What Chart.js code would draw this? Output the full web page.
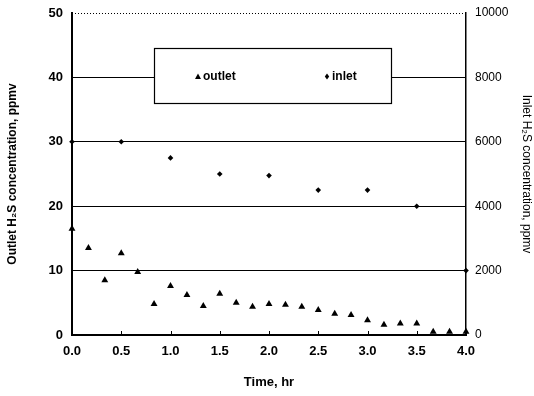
<!DOCTYPE html>
<html>
<head>
<meta charset="utf-8">
<script src="https://cdn.jsdelivr.net/npm/chart.js@4/dist/chart.umd.min.js"></script>
<style>
  html, body { margin: 0; padding: 0; background: #fff; }
  #wrap { width: 534px; height: 396px; }
</style>
</head>
<body>
<div id="wrap"><canvas id="h2sChart"></canvas></div>
<script>
// Data
const outletTime = [0, 0.167, 0.333, 0.5, 0.667, 0.833, 1.0, 1.167, 1.333, 1.5, 1.667, 1.833, 2.0,
                    2.167, 2.333, 2.5, 2.667, 2.833, 3.0, 3.167, 3.333, 3.5, 3.667, 3.833, 4.0];
const outletPpmv = [16.5, 13.5, 8.5, 12.7, 9.8, 4.8, 7.6, 6.2, 4.5, 6.4, 5.0, 4.4, 4.8,
                    4.7, 4.4, 3.9, 3.3, 3.1, 2.3, 1.6, 1.8, 1.8, 0.5, 0.5, 0.5];
const inletTime = [0, 0.5, 1.0, 1.5, 2.0, 2.5, 3.0, 3.5, 4.0];
const inletPpmv = [6000, 6000, 5500, 5000, 4950, 4500, 4500, 4000, 2000];

const seriesLabels = ['outlet', 'inlet'];
const xTicks = [0, 0.5, 1, 1.5, 2, 2.5, 3, 3.5, 4];

const FONT = "'Liberation Sans', Arial, sans-serif";

// Legend box, dotted top border and small inward x ticks
const framePlugin = {
    id: 'frame',
    afterDatasetsDraw(chart) {
        const { ctx, chartArea: a, scales } = chart;
        ctx.save();

        // dotted top edge
        ctx.strokeStyle = '#000';
        ctx.lineWidth = 1;
        ctx.setLineDash([1, 2]);
        ctx.beginPath();
        ctx.moveTo(a.left, a.top + 0.5);
        ctx.lineTo(a.right, a.top + 0.5);
        ctx.stroke();
        ctx.setLineDash([]);

        // inward tick marks on the time axis
        ctx.lineWidth = 1;
        xTicks.forEach(t => {
            const px = Math.round(scales.x.getPixelForValue(t)) + 0.5;
            ctx.beginPath();
            ctx.moveTo(px, a.bottom);
            ctx.lineTo(px, a.bottom - 4);
            ctx.stroke();
        });

        // legend box
        const bx = a.left + 82, by = a.top + 35, bw = 237, bh = 55;
        ctx.fillStyle = '#fff';
        ctx.fillRect(bx, by, bw, bh);
        ctx.lineWidth = 1.2;
        ctx.strokeRect(bx + 0.5, by + 0.5, bw, bh);

        const cy = by + bh / 2 + 1;
        ctx.fillStyle = '#000';
        ctx.font = 'bold 12px ' + FONT;
        ctx.textBaseline = 'middle';

        // triangle item
        let mx = bx + 44;
        ctx.beginPath();
        ctx.moveTo(mx, cy - 3);
        ctx.lineTo(mx + 3, cy + 2.5);
        ctx.lineTo(mx - 3, cy + 2.5);
        ctx.closePath();
        ctx.fill();
        ctx.fillText(seriesLabels[0], mx + 5, cy);

        // diamond item
        mx = bx + 173;
        ctx.beginPath();
        ctx.moveTo(mx, cy - 3);
        ctx.lineTo(mx + 2.2, cy);
        ctx.lineTo(mx, cy + 3);
        ctx.lineTo(mx - 2.2, cy);
        ctx.closePath();
        ctx.fill();
        ctx.fillText(seriesLabels[1], mx + 5, cy);

        ctx.restore();
    }
};

const bgPlugin = {
    id: 'bg',
    beforeDraw(chart) {
        const { ctx } = chart;
        ctx.save();
        ctx.fillStyle = '#fff';
        ctx.fillRect(0, 0, chart.width, chart.height);
        ctx.restore();
    }
};

const h2sChart = new Chart(
    document.getElementById('h2sChart'),
    {
        type: 'scatter',
        data: {
            datasets: [
                {
                    label: seriesLabels[0],
                    data: outletTime.map((t, i) => ({ x: t, y: outletPpmv[i] })),
                    yAxisID: 'y',
                    pointStyle: 'triangle',
                    pointRadius: 4,
                    backgroundColor: '#000',
                    borderColor: '#000',
                    borderWidth: 0,
                    clip: false
                },
                {
                    label: seriesLabels[1],
                    data: inletTime.map((t, i) => ({ x: t, y: inletPpmv[i] })),
                    yAxisID: 'y2',
                    pointStyle: 'rectRot',
                    pointRadius: 2.8,
                    backgroundColor: '#000',
                    borderColor: '#000',
                    borderWidth: 0,
                    clip: false
                }
            ]
        },
        options: {
            responsive: true,
            maintainAspectRatio: false,
            animation: false,
            layout: { padding: { top: 13, left: 0, right: 0, bottom: 0 } },
            plugins: {
                legend: { display: false },
                tooltip: { enabled: false }
            },
            scales: {
                x: {
                    type: 'linear',
                    min: 0,
                    max: 4,
                    afterFit: s => { s.height = 61; s.paddingLeft = 0; s.paddingRight = 0; },
                    afterBuildTicks: s => { s.ticks = xTicks.map(v => ({ value: v })); },
                    grid: { drawOnChartArea: false, drawTicks: false },
                    border: { color: '#000', width: 2 },
                    ticks: {
                        padding: 9,
                        color: '#000',
                        font: { family: FONT, size: 13, weight: 'bold' },
                        callback: v => v.toFixed(1)
                    },
                    title: {
                        display: true,
                        text: 'Time, hr',
                        color: '#000',
                        font: { family: FONT, size: 13, weight: 'bold' },
                        padding: { top: 0, bottom: 6 }
                    }
                },
                y: {
                    position: 'left',
                    min: 0,
                    max: 50,
                    afterFit: s => { s.width = 72; s.paddingTop = 0; s.paddingBottom = 0; },
                    grid: {
                        drawTicks: false,
                        color: c => (c.tick.value === 0 || c.tick.value === 50) ? 'rgba(0,0,0,0)' : '#000',
                        lineWidth: 1
                    },
                    border: { color: '#000', width: 2 },
                    ticks: {
                        stepSize: 10,
                        padding: 9,
                        color: '#000',
                        font: { family: FONT, size: 13, weight: 'bold' }
                    },
                    title: {
                        display: true,
                        text: 'Outlet H\u2082S concentration, ppmv',
                        color: '#000',
                        font: { family: FONT, size: 12, weight: 'bold' },
                        padding: { top: 5, bottom: 0 }
                    }
                },
                y2: {
                    position: 'right',
                    min: 0,
                    max: 10000,
                    afterFit: s => { s.width = 68; s.paddingTop = 0; s.paddingBottom = 0; },
                    grid: { drawOnChartArea: false, drawTicks: false },
                    border: { color: '#000', width: 1.5 },
                    ticks: {
                        stepSize: 2000,
                        padding: 9,
                        color: '#000',
                        font: { family: FONT, size: 12 },
                        callback: v => String(v)
                    },
                    title: {
                        display: true,
                        text: 'Inlet H\u2082S concentration, ppmv',
                        color: '#000',
                        font: { family: FONT, size: 12 },
                        padding: { top: 0, bottom: 0 }
                    }
                }
            }
        },
        plugins: [bgPlugin, framePlugin]
    }
);
</script>
</body>
</html>
